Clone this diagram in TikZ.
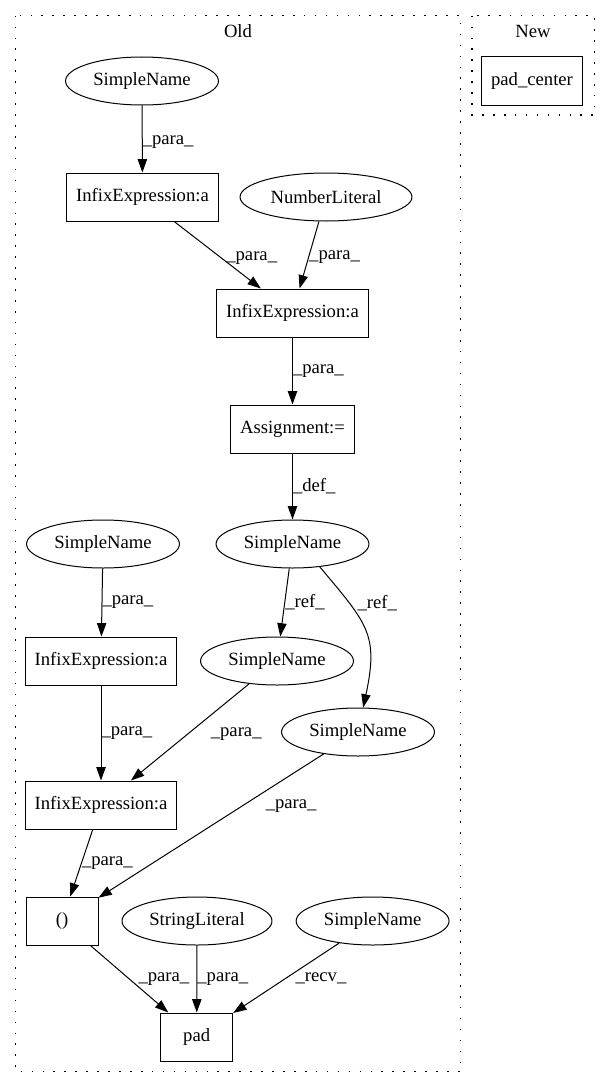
\documentclass[tikz,border=0pt]{standalone}
\usepackage{fontspec}
\setmainfont{Liberation Serif}
\usetikzlibrary{arrows.meta,shapes.geometric}
\tikzstyle{stmt}=[draw,rectangle,minimum width=54pt,minimum height=36pt,inner xsep=7pt,inner ysep=0pt]
\tikzstyle{leaf}=[draw,ellipse,minimum height=36pt,inner xsep=4pt,inner ysep=0pt]
\tikzstyle{cluster}=[draw,line width=0.8pt,dash pattern=on 1.2pt off 7pt]
\tikzstyle{flow}=[-{Triangle[length=10pt,width=7pt]}]
\tikzstyle{lbl}=[anchor=west,inner sep=0pt]

\begin{document}
\begin{tikzpicture}[x=0.75pt,y=-0.75pt,line width=0.75pt]
\tikzstyle{every node}=[font=\fontsize{14}{16}\selectfont]
\useasboundingbox (0,0) rectangle (611,1088);
% clusters
\draw[cluster] (15.7,15.7) rectangle (460.7,1071.3);
\draw[cluster] (472,15.7) rectangle (594.7,115);
\node (oldT) at (238,31) {Old};
\node (newT) at (533,31) {New};
% new
\node[stmt] (padc) at (532,81) {pad\_center};
% old
\node[leaf] (sn1) at (142,81) {SimpleName};
\node[stmt] (infA) at (142.5,197) {InfixExpression:a};
\node[leaf] (num) at (326,197) {NumberLiteral};
\node[stmt] (infB) at (292.5,313) {InfixExpression:a};
\node[stmt] (asg) at (292.5,429) {Assignment:=};
\node[leaf] (snD) at (292.5,544) {SimpleName};
\node[leaf] (snL) at (103,544) {SimpleName};
\node[stmt] (infC) at (101,661) {InfixExpression:a};
\node[leaf] (snM) at (277,661) {SimpleName};
\node[leaf] (snR) at (358,732) {SimpleName};
\node[stmt] (infD) at (101,805) {InfixExpression:a};
\node[stmt] (par) at (62,921) {()};
\node[leaf] (str) at (197,921) {StringLiteral};
\node[leaf] (snB) at (372.6,921) {SimpleName};
\node[stmt] (pad) at (196.7,1037) {pad};
% edges
\draw[flow] (sn1) -- (infA) node[lbl,pos=0.55] {\_para\_};
\draw[flow] (infA) -- (infB) node[lbl,pos=0.55,xshift=3] {\_para\_};
\draw[flow] (num) -- (infB) node[lbl,pos=0.53] {\_para\_};
\draw[flow] (infB) -- (asg) node[lbl,pos=0.5] {\_para\_};
\draw[flow] (asg) -- (snD) node[lbl,pos=0.5] {\_def\_};
\draw[flow] (snD) -- (snM) node[lbl,pos=0.5] {\_ref\_};
\draw[flow] (snD.-40) to[out=-50,in=78,looseness=1.3] node[lbl,pos=0.25,xshift=6] {\_ref\_} (snR.78);
\draw[flow] (snL) -- (infC) node[lbl,pos=0.5] {\_para\_};
\draw[flow] (infC) -- (infD) node[lbl,pos=0.5] {\_para\_};
\draw[flow] (snM) -- (infD) node[lbl,pos=0.52,xshift=17] {\_para\_};
\draw[flow] (snR) -- (par) node[lbl,pos=0.36,xshift=17] {\_para\_};
\draw[flow] (infD) -- (par) node[lbl,pos=0.5] {\_para\_};
\draw[flow] (par) -- (pad) node[lbl,pos=0.5,xshift=6.5] {\_para\_};
\draw[flow] (str) -- (pad) node[lbl,pos=0.5] {\_para\_};
\draw[flow] (snB) -- (pad) node[lbl,pos=0.51,xshift=7.5] {\_recv\_};
\end{tikzpicture}
\end{document}
